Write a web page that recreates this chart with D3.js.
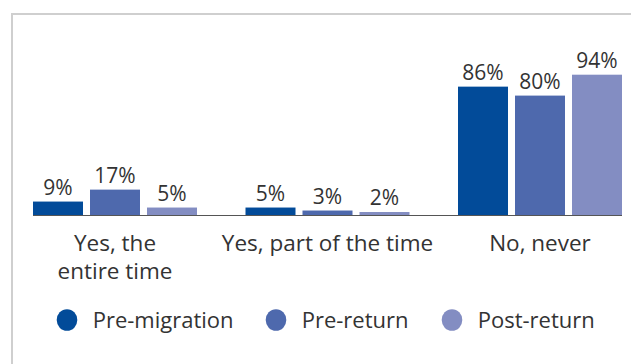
<!DOCTYPE html>
<html>
<head>
<meta charset="utf-8">
<script src="https://cdn.jsdelivr.net/npm/d3@7"></script>
<style>
  body { margin: 0; background: #fff; }
  text { font-family: "Open Sans", Lato, sans-serif; fill: #333; }
</style>
</head>
<body>
<div id="chart"></div>
<script>
// 数据
const categories = [["Yes, the", "entire time"], ["Yes, part of the time"], ["No, never"]];
const series = ["Pre-migration", "Pre-return", "Post-return"];
const colors = ["#024b99", "#4e69ad", "#838dc2"];
const preMigration = [9, 5, 86];
const preReturn = [17, 3, 80];
const postReturn = [5, 2, 94];
const values = [preMigration, preReturn, postReturn];

const width = 631, height = 364;
const svg = d3.select("#chart").append("svg")
    .attr("width", width)
    .attr("height", height);

// 边框
svg.append("path")
    .attr("d", "M12,364V14H631")
    .attr("fill", "none")
    .attr("stroke", "#cfcfcf")
    .attr("stroke-width", 2);

const x0 = d3.scaleBand()
    .domain(d3.range(categories.length))
    .range([33, 33 + 212.5 * 3]);

const x1 = d3.scaleBand()
    .domain(d3.range(series.length))
    .range([0, 164])
    .paddingInner(7 / 57);

const y = d3.scaleLinear()
    .domain([0, 94])
    .range([215, 74.7]);

const groups = svg.selectAll("g.cat")
    .data(categories)
    .join("g")
    .attr("class", "cat")
    .attr("transform", (d, i) => `translate(${x0(i)},0)`);

groups.selectAll("rect")
    .data((d, i) => series.map((s, j) => ({ j, v: values[j][i] })))
    .join("rect")
    .attr("x", d => x1(d.j))
    .attr("width", x1.bandwidth())
    .attr("y", d => y(d.v))
    .attr("height", d => y(0) - y(d.v))
    .attr("fill", d => colors[d.j]);

groups.selectAll("text.val")
    .data((d, i) => series.map((s, j) => ({ j, v: values[j][i] })))
    .join("text")
    .attr("class", "val")
    .attr("x", d => x1(d.j) + x1.bandwidth() / 2)
    .attr("y", d => y(d.v) - 7)
    .attr("text-anchor", "middle")
    .attr("font-size", 21)
    .text(d => d.v + "%");

// 基线
svg.append("line")
    .attr("x1", 33).attr("x2", 622)
    .attr("y1", y(0) + 0.5).attr("y2", y(0) + 0.5)
    .attr("stroke", "#555")
    .attr("stroke-width", 1.2);

// 类别标签（每行一个 text）
const cx = (x1(0) + x1(2) + x1.bandwidth()) / 2;
groups.selectAll("text.cat-label")
    .data(d => d)
    .join("text")
    .attr("class", "cat-label")
    .attr("text-anchor", "middle")
    .attr("font-size", 22.5)
    .attr("x", cx)
    .attr("y", (d, i) => 251 + i * 28)
    .text(d => d);

// 图例
const legendX = [67, 276, 452];
const legend = svg.selectAll("g.legend")
    .data(series)
    .join("g")
    .attr("class", "legend")
    .attr("transform", (d, i) => `translate(${legendX[i]},320)`);

legend.append("ellipse")
    .attr("rx", 10.3)
    .attr("ry", 10.8)
    .attr("fill", (d, i) => colors[i]);

legend.append("text")
    .attr("x", 25.7)
    .attr("y", 7.5)
    .attr("font-size", 22)
    .text(d => d);
</script>
</body>
</html>
